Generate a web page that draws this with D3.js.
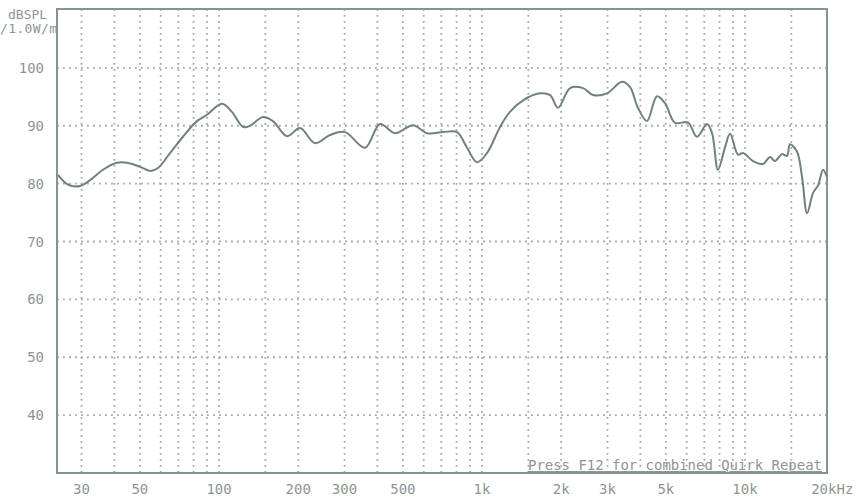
<!DOCTYPE html>
<html lang="en">
<head>
<meta charset="UTF-8">
<title>dBSPL response</title>
<style>
    body { margin: 0; background: #fff; }
    .grid line { stroke: #a3aaa8; stroke-width: 1.8; stroke-dasharray: 1.8,4.2; }
    .lbl { font-family: "DejaVu Sans Mono", monospace; font-size: 14px; fill: #8d9694; }
    .frame { fill: none; stroke: #84958f; stroke-width: 2; }
    .curve { fill: none; stroke: #71827e; stroke-width: 2; stroke-linejoin: round; }
</style>
</head>
<body>
<svg></svg>
<script src="https://cdn.jsdelivr.net/npm/d3@7"></script>
<script>
// frequency (Hz) and level (dB SPL)
var freq = [24.4, 26.7, 29.6, 32.3, 36.2, 40.9, 44.7, 50.1, 54.7, 58.6, 65.2, 72.9, 82.4, 90, 102.6,
    111.9, 123.3, 131.2, 146.9, 160.3, 181.4, 203.2, 231.7, 264.3, 301.4, 358.9, 409.3, 466.7, 547,
    618, 711, 803, 877, 957, 1045, 1171, 1277, 1432, 1662, 1815, 1945, 2162, 2421, 2642, 2987,
    3405, 3652, 3917, 4238, 4625, 4963, 5418, 6067, 6566, 7173, 7494, 7895, 8397, 8775, 9404,
    9825, 10720, 11700, 12450, 13000, 13820, 14440, 14830, 15770, 16480, 17220, 18150, 18960, 19810, 20500];
var level = [81.5, 79.8, 79.6, 80.6, 82.4, 83.6, 83.6, 82.9, 82.2, 82.7, 85.3, 88.1, 90.8, 91.9, 93.8,
    92.4, 89.8, 90, 91.5, 90.8, 88.2, 89.6, 87, 88.4, 88.9, 86.2, 90.3, 88.7, 90.1,
    88.7, 88.9, 88.9, 86.2, 83.7, 85.3, 89.8, 92.4, 94.4, 95.6, 95.3, 93.1, 96.5, 96.5, 95.3, 95.6,
    97.6, 96.7, 93.1, 90.8, 95.1, 93.9, 90.5, 90.6, 88.1, 90.3, 88.7, 82.4, 86.3, 88.6, 85,
    85.3, 83.9, 83.4, 84.6, 83.9, 85.1, 84.8, 86.8, 85.5, 81.1, 74.9, 78.4, 79.7, 82.4, 81.1];

var yTicks = [40, 50, 60, 70, 80, 90, 100];
var gridFreq = [30, 40, 50, 60, 70, 80, 90, 100, 150, 200, 300, 400, 500, 600, 700, 800, 900,
    1000, 1500, 2000, 3000, 4000, 5000, 6000, 7000, 8000, 9000, 10000, 15000];
var xTicks = [30, 50, 100, 200, 300, 500, 1000, 2000, 3000, 5000, 10000, 20000];
var xTickText = ["30", "50", "100", "200", "300", "500", "1k", "2k", "3k", "5k", "10k", "20kHz"];

var W = 862, H = 501;
var L = 57, R = 827, T = 9, B = 473;

var svg = d3.select('svg').attr('width', W).attr('height', H);

var x = d3.scaleLog().domain([24.2, 20500]).range([L, R]);
var y = d3.scaleLinear().domain([30, 110]).range([B, T + 1]);

// grid
var g = svg.append('g').attr('class', 'grid');
g.selectAll('.h').data(yTicks).enter().append('line')
    .attr('x1', L).attr('x2', R)
    .attr('y1', function (d) { return y(d); })
    .attr('y2', function (d) { return y(d); });
g.selectAll('.v').data(gridFreq).enter().append('line')
    .attr('y1', T).attr('y2', B)
    .attr('x1', function (d) { return x(d); })
    .attr('x2', function (d) { return x(d); });

// frame
svg.append('rect').attr('class', 'frame')
    .attr('x', L).attr('y', T).attr('width', R - L).attr('height', B - T);

// y labels
svg.selectAll('.yl').data(yTicks).enter().append('text')
    .attr('class', 'lbl')
    .attr('x', 44).attr('y', function (d) { return y(d) + 5; })
    .attr('text-anchor', 'end')
    .text(function (d) { return d; });

svg.append('text').attr('class', 'lbl').attr('x', 8).attr('y', 19).style('font-size', '13px').text('dBSPL');
svg.append('text').attr('class', 'lbl').attr('x', 0).attr('y', 33).style('font-size', '13px')
    .attr('textLength', 57).text('/1.0W/m');

// x labels
svg.selectAll('.xl').data(xTicks).enter().append('text')
    .attr('class', 'lbl')
    .attr('x', function (d, i) { return i == xTicks.length - 1 ? x(d) - 13 : x(d); })
    .attr('y', 494)
    .attr('text-anchor', function (d, i) { return i == xTicks.length - 1 ? 'start' : 'middle'; })
    .text(function (d, i) { return xTickText[i]; });

// note at bottom
svg.append('text').attr('class', 'lbl')
    .attr('x', 528).attr('y', 470).attr('textLength', 294)
    .style('text-decoration', 'underline')
    .text('Press F12 for combined Quirk Repeat');

// response curve
var line = d3.line()
    .x(function (d, i) { return x(freq[i]); })
    .y(function (d) { return y(d); })
    .curve(d3.curveCatmullRom.alpha(0.5));

svg.append('path').attr('class', 'curve').attr('d', line(level));
</script>
</body>
</html>
